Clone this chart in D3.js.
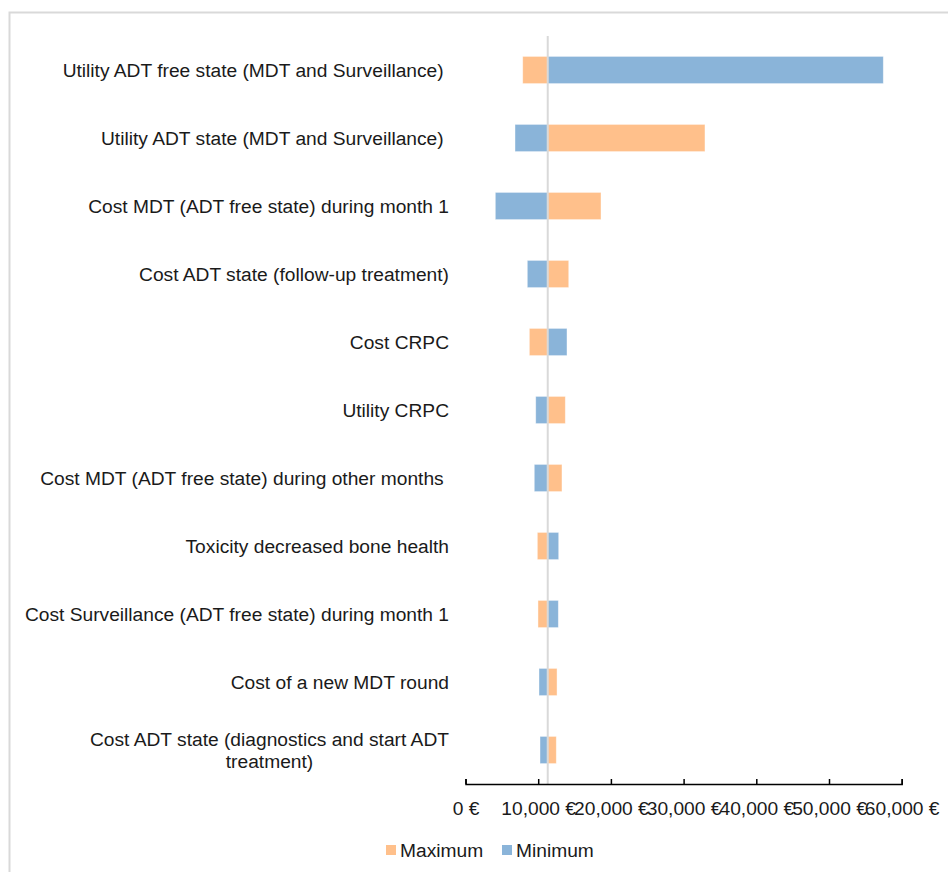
<!DOCTYPE html>
<html>
<head>
<meta charset="utf-8">
<script src="https://cdn.jsdelivr.net/npm/d3@7"></script>
<style>
  body { margin: 0; background: #fff; }
  svg text { font-family: "Liberation Sans", Arial, sans-serif; font-size: 19.2px; fill: #1a1a1a; white-space: pre; }
</style>
</head>
<body>
<div id="chart"></div>
<script>
// tornado diagram values (euro)
const categories = [
  "Utility ADT free state (MDT and Surveillance) ",
  "Utility ADT state (MDT and Surveillance) ",
  "Cost MDT (ADT free state) during month 1",
  "Cost ADT state (follow-up treatment)",
  "Cost CRPC",
  "Utility CRPC",
  "Cost MDT (ADT free state) during other months ",
  "Toxicity decreased bone health",
  "Cost Surveillance (ADT free state) during month 1",
  "Cost of a new MDT round",
  "Cost ADT state (diagnostics and start ADT treatment)"
];
const maximumValues = [7870, 32940, 18640, 14200, 8780, 13730, 13270, 9880, 9970, 12590, 12490];
const minimumValues = [57470, 6810, 4100, 8500, 13960, 9660, 9460, 12820, 12770, 10110, 10250];
const baseValue = 11310;
const xTicks = [0, 10000, 20000, 30000, 40000, 50000, 60000];
const seriesNames = ["Maximum", "Minimum"];

const colors = {Maximum: "#ffc08b", Minimum: "#8ab4d9"},
      width = 948, height = 872,
      plotLeft = 465.5, plotRight = 901.7,
      plotTop = 36, plotBottom = 784,
      labelRight = 449;

const svg = d3.select("#chart").append("svg")
    .attr("width", width)
    .attr("height", height);

// chart frame (runs off the right and bottom edges)
svg.append("rect")
    .attr("x", 9.5).attr("y", 12.5)
    .attr("width", 960).attr("height", 880)
    .attr("fill", "none")
    .attr("stroke", "#d9d9d9")
    .attr("stroke-width", 2);

const x = d3.scaleLinear().domain([0, 60000]).range([plotLeft, plotRight]);
const y = d3.scaleBand().domain(categories).range([plotTop, plotBottom])
    .paddingInner(0.6).paddingOuter(0.3);

const rows = categories.map((c, i) => ({cat: c, Maximum: maximumValues[i], Minimum: minimumValues[i]}));

seriesNames.forEach(name => {
    svg.selectAll(".bar-" + name)
        .data(rows)
        .enter().append("rect")
        .attr("class", "bar-" + name)
        .attr("x", d => x(Math.min(baseValue, d[name])))
        .attr("width", d => Math.abs(x(d[name]) - x(baseValue)))
        .attr("y", d => y(d.cat))
        .attr("height", y.bandwidth())
        .attr("fill", colors[name])
        .attr("stroke", "#fff")
        .attr("stroke-opacity", 0.5)
        .attr("stroke-width", 0.8);
});

// base value line
svg.append("line")
    .attr("x1", x(baseValue)).attr("x2", x(baseValue))
    .attr("y1", plotTop).attr("y2", plotBottom)
    .attr("stroke", "#d9d9d9")
    .attr("stroke-width", 2);

// x axis, ticks pointing up
const axis = svg.append("g")
    .attr("transform", "translate(0," + plotBottom + ")")
    .call(d3.axisBottom(x)
        .tickValues(xTicks)
        .tickSizeInner(-5).tickSizeOuter(-5)
        .tickPadding(17)
        .tickFormat(d => d3.format(",")(d) + " €"));
axis.select(".domain").attr("stroke", "#000").attr("stroke-width", 1.5);
axis.selectAll(".tick line").attr("stroke", "#000").attr("stroke-width", 1.5);
axis.selectAll("text")
    .attr("font-family", null).attr("font-size", null)
    .style("font-size", "19.2px").attr("fill", "#1a1a1a");

// category labels, wrapped when too long
const maxLabelWidth = 440, lineHeight = 21.7;
categories.forEach(c => {
    const cy = y(c) + y.bandwidth() / 2;
    const t = svg.append("text")
        .attr("x", labelRight)
        .attr("y", cy)
        .attr("dy", "0.35em")
        .attr("text-anchor", "end")
        .text(c);
    if (t.node().getComputedTextLength() > maxLabelWidth) {
        const words = c.trim().split(" ");
        const lines = [];
        let line = [];
        t.text("");
        words.forEach(w => {
            t.text(line.concat(w).join(" "));
            if (t.node().getComputedTextLength() > maxLabelWidth && line.length) {
                lines.push(line.join(" "));
                line = [w];
            } else {
                line.push(w);
            }
        });
        lines.push(line.join(" "));
        t.text(lines[0]);
        const w0 = t.node().getComputedTextLength();
        t.text("").attr("text-anchor", "middle");
        lines.forEach((l, i) => {
            t.append("tspan")
                .attr("x", labelRight - w0 / 2)
                .attr("y", cy + (i - (lines.length - 1) / 2) * lineHeight)
                .attr("dy", "0.35em")
                .text(l);
        });
    }
});

// legend
const legendPos = [386, 502];
const legend = svg.selectAll(".legend")
    .data(seriesNames)
    .enter().append("g")
    .attr("class", "legend")
    .attr("transform", (d, i) => "translate(" + legendPos[i] + ",845)");
legend.append("rect")
    .attr("width", 10).attr("height", 10)
    .attr("fill", d => colors[d]);
legend.append("text")
    .attr("x", 14).attr("y", 5)
    .attr("dy", "0.35em")
    .text(d => d);
</script>
</body>
</html>
